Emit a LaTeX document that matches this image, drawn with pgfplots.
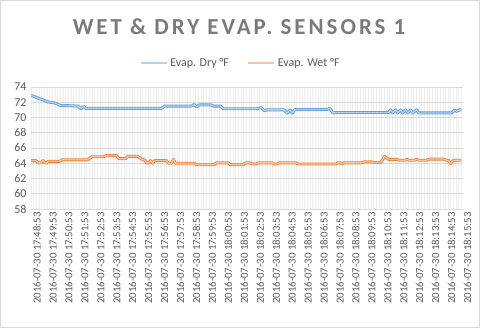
\documentclass[border=0pt]{standalone}
\usepackage{pgfplots}
\pgfplotsset{compat=1.18}
\usepackage{fontspec}
\setmainfont{Carlito}
\definecolor{dryc}{HTML}{5B9BD5}
\definecolor{dryl}{HTML}{B4D1EE}
\definecolor{wetc}{HTML}{ED7D31}
\definecolor{wetl}{HTML}{F8C4A2}
\definecolor{gridc}{HTML}{D9D9D9}
\definecolor{minorg}{HTML}{EEEEEE}
\definecolor{txt}{HTML}{595959}
\definecolor{ttl}{HTML}{7A7A7A}
\begin{document}
\begin{tikzpicture}[x=1bp,y=1bp]
\node[font=\fontsize{23}{25}\selectfont\bfseries\addfontfeature{LetterSpace=13}, text=ttl, anchor=base] at (239,294) {WET \& DRY EVAP. SENSORS 1};
\begin{axis}[
  at={(31bp,119bp)}, anchor=south west, scale only axis,
  width=432bp, height=122bp,
  xmin=0, xmax=27.1, ymin=58, ymax=74,
  ytick={58,60,...,74},
  xtick={0,...,27},
  xticklabels={2016-07-30 17:48:53,2016-07-30 17:49:53,2016-07-30 17:50:53,2016-07-30 17:51:53,2016-07-30 17:52:53,2016-07-30 17:53:53,2016-07-30 17:54:53,2016-07-30 17:55:53,2016-07-30 17:56:53,2016-07-30 17:57:53,2016-07-30 17:58:53,2016-07-30 17:59:53,2016-07-30 18:00:53,2016-07-30 18:01:53,2016-07-30 18:02:53,2016-07-30 18:03:53,2016-07-30 18:04:53,2016-07-30 18:05:53,2016-07-30 18:06:53,2016-07-30 18:07:53,2016-07-30 18:08:53,2016-07-30 18:09:53,2016-07-30 18:10:53,2016-07-30 18:11:53,2016-07-30 18:12:53,2016-07-30 18:13:53,2016-07-30 18:14:53,2016-07-30 18:15:53},
  minor x tick num=5,
  xmajorgrids, xminorgrids, ymajorgrids,
  x grid style={minorg, line width=0.6bp},
  y grid style={gridc, line width=0.8bp},
  major tick length=0pt, minor tick length=0pt,
  axis x line*=bottom, axis y line*=left,
  x axis line style={gridc, line width=0.8bp, -},
  y axis line style={draw=none},
  /pgf/number format/assume math mode=true,
  yticklabel style={font=\fontsize{12}{14}\selectfont, text=txt, xshift=-1bp},
  xticklabel style={rotate=90, anchor=east, font=\fontsize{10.8}{13}\selectfont, text=txt, yshift=-6bp},
  legend style={draw=none, fill=none, at={(axis description cs:0.485,1)}, anchor=south, yshift=15bp,
    font=\fontsize{12}{14}\selectfont, text=txt, /tikz/every even column/.append style={column sep=16bp}},
  legend columns=2,
  legend image code/.code={\draw[#1] (0bp,0bp) -- (26bp,0bp);},
]
\addplot[dryc, line width=0.8bp, double=dryl, double distance=1.3bp, line join=round] coordinates {
(0,72.9) (0.63,72.4) (1.06,72.05) (1.5,71.9) (1.81,71.6) (2.94,71.5) (3.13,71.15) (3.31,71.45) (3.44,71.2)
(8.19,71.2) (8.38,71.5) (10.06,71.5) (10.25,71.7) (10.38,71.4) (10.56,71.65) (11.31,71.65) (11.44,71.5)
(11.88,71.5) (12.06,71.15) (14.19,71.15) (14.44,71.3) (14.63,70.9) (14.81,71.0) (15.88,71.0) (16.06,70.55)
(16.25,71.0) (16.38,70.55) (16.56,71.05) (18.56,71.05) (18.75,71.2) (18.94,70.6) (19.13,70.65) (22.44,70.65)
(22.56,71.0) (22.69,70.6) (22.88,71.0) (23.0,70.6) (23.19,71.0) (23.31,70.6) (23.5,71.0) (23.63,70.6)
(23.81,71.0) (23.94,70.6) (24.19,71.0) (24.31,70.6) (26.38,70.6) (26.56,70.95) (26.69,70.8) (26.88,71.0) (27,71.0)
};
\addlegendentry{Evap. Dry °F}
\addplot[wetc, line width=0.8bp, double=wetl, double distance=1.3bp, line join=round] coordinates {
(0,64.35) (0.31,64.35) (0.44,64.05) (0.63,64.05) (0.75,64.35) (0.88,64.05) (1.0,64.05) (1.06,64.25) (1.81,64.25)
(1.94,64.45) (3.56,64.45) (3.81,64.85) (4.56,64.85) (4.69,65.0) (5.38,65.0) (5.5,64.6) (5.94,64.6) (6.06,64.9)
(6.69,64.9) (6.94,64.55) (7.13,64.4) (7.25,64.05) (7.38,64.05) (7.5,64.35) (7.63,64.0) (7.75,64.35) (8.5,64.35)
(8.63,64.0) (8.81,64.0) (8.94,64.5) (9.06,64.0) (10.25,64.0) (10.38,63.8) (11.5,63.8) (11.63,64.05) (12.38,64.05)
(12.5,63.8) (13.31,63.8) (13.44,64.05) (13.75,64.05) (13.88,63.9) (14.13,63.9) (14.25,64.05) (15.13,64.05)
(15.25,63.9) (15.44,63.9) (15.56,64.05) (16.63,64.05) (16.75,63.9) (19.13,63.9) (19.25,64.05) (19.44,64.05)
(19.5,63.9) (19.63,64.05) (20.69,64.05) (20.94,64.2) (21.31,64.2) (21.5,64.1) (21.94,64.1) (22.19,64.9)
(22.44,64.5) (22.94,64.5) (23.13,64.4) (23.44,64.4) (23.56,64.5) (23.69,64.4) (24.06,64.4) (24.19,64.5)
(24.31,64.4) (24.81,64.4) (25.0,64.55) (25.88,64.55) (26.06,64.4) (26.19,64.4) (26.31,63.95) (26.5,64.4) (27,64.4)
};
\addlegendentry{Evap. Wet °F}
\end{axis}
\pgfresetboundingbox
\useasboundingbox (0,0) rectangle (480,328);
\draw[gridc, line width=1bp] (0.5,0.5) rectangle (479.5,327.5);
\end{tikzpicture}
\end{document}
